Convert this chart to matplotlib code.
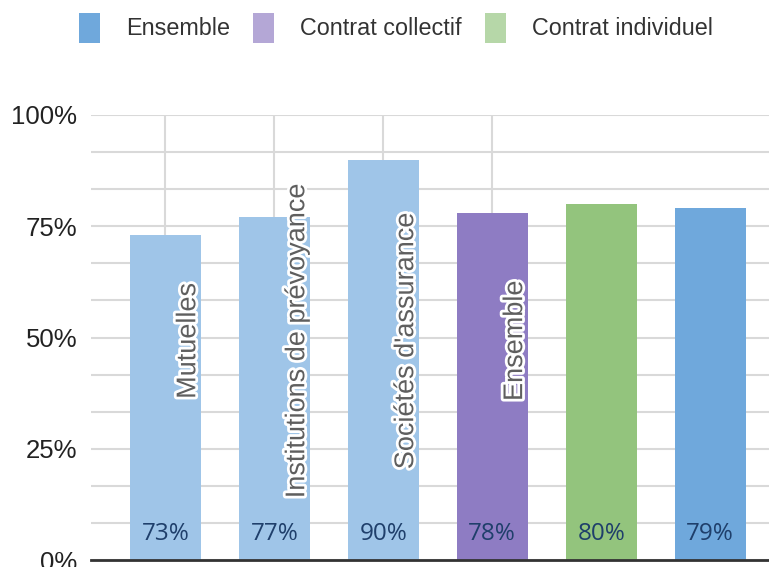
import matplotlib
matplotlib.use("Agg")
import matplotlib.pyplot as plt
import matplotlib.patheffects as pe
from matplotlib.patches import Patch
from matplotlib.ticker import MultipleLocator, FuncFormatter

# data
names = ["Mutuelles", "Institutions de prévoyance", "Sociétés d'assurance", "Ensemble", "", ""]
values = [73, 77, 90, 78, 80, 79]
colors = ["#9fc5e8", "#9fc5e8", "#9fc5e8", "#8e7cc3", "#93c47d", "#6fa8dc"]
legend_labels = ["Ensemble", "Contrat collectif", "Contrat individuel"]
legend_colors = ["#6fa8dc", "#b4a7d6", "#b6d7a8"]

plt.rcParams["font.family"] = ["Liberation Sans", "DejaVu Sans"]

fig = plt.figure(figsize=(7.69, 5.67), dpi=100)
ax = fig.add_axes([91 / 769, 1 - 560 / 567, 1 - 91 / 769, (560 - 115) / 567])

x = list(range(len(values)))
ax.bar(x, values, width=0.65, color=colors, zorder=2)

for xi, v, name in zip(x, values, names):
    ax.text(xi, 5.8, f"{v}%", ha="center", va="center", fontsize=17.5,
            family=["Open Sans", "DejaVu Sans"], color="#1f3f6b", zorder=4)
    if name:
        ax.text(xi + 0.21, 49.3, name, rotation=90, ha="center", va="center",
                fontsize=19.5, color="#5f5f5f", zorder=4,
                path_effects=[pe.withStroke(linewidth=4, foreground="white")])

ax.set_xlim(-0.683, 5.54)
ax.set_ylim(0, 100)
ax.yaxis.set_major_locator(MultipleLocator(25))
ax.yaxis.set_minor_locator(MultipleLocator(25 / 3))
ax.yaxis.set_major_formatter(FuncFormatter(lambda v, p: f"{v:.0f}%"))
ax.set_xticks(x[:4])
ax.set_xticklabels([])
ax.grid(axis="y", which="both", color="#d9d9d9", lw=1.5, zorder=0)
ax.grid(axis="x", color="#d9d9d9", lw=1.5, zorder=0)
ax.tick_params(axis="both", which="both", length=0)
ax.tick_params(axis="y", labelsize=18.5, pad=10, labelcolor="#222222")
for s in ["top", "right", "left"]:
    ax.spines[s].set_visible(False)
ax.spines["bottom"].set_color("#333333")
ax.spines["bottom"].set_linewidth(2)
ax.spines["bottom"].set_zorder(3)

handles = [Patch(facecolor=c, edgecolor="none") for c in legend_colors]
fig.legend(handles, legend_labels, loc="center", bbox_to_anchor=(0.515, 0.951),
           ncol=3, frameon=False, fontsize=16.8, labelcolor="#333333",
           handlelength=0.9, handleheight=1.6, handletextpad=1.1, columnspacing=1.0)

fig.savefig("out.png", dpi=100)
